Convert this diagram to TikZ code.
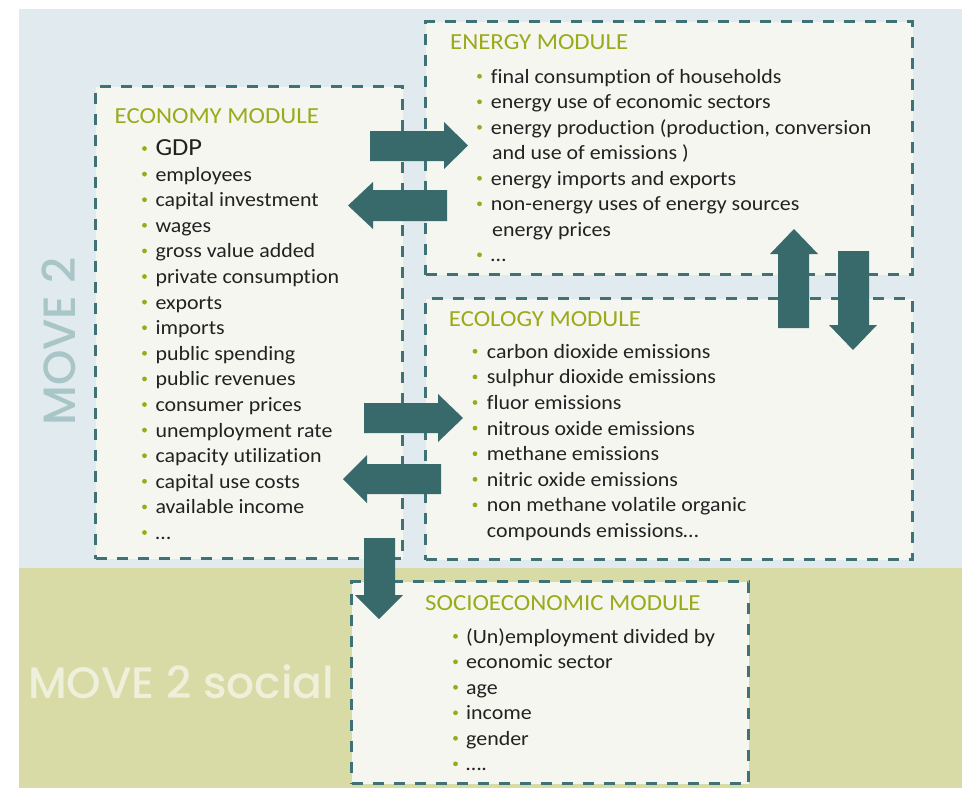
\documentclass[tikz,border=0pt]{standalone}
\usepackage{fontspec}
\setmainfont{Carlito}[FakeStretch=1.08, RawFeature={-liga}]
\newfontfamily\movefont{Poppins Medium}
\definecolor{bgblue}{HTML}{E1EAEE}
\definecolor{bgolive}{HTML}{D8DBA6}
\definecolor{boxfill}{HTML}{F5F6EF}
\definecolor{teal}{HTML}{386A6B}
\definecolor{dashc}{HTML}{3E7274}
\definecolor{titlec}{HTML}{9BAA1B}
\definecolor{textc}{HTML}{222222}
\definecolor{movec}{HTML}{A8C5C7}
\definecolor{socialc}{HTML}{EEF0DA}
\tikzset{
  modbox/.style={draw=dashc, fill=boxfill, line width=3pt, dash pattern=on 11pt off 10pt, anchor=north west, inner sep=0pt},
  modtitle/.style={anchor=base west, inner sep=0pt, text=titlec, font=\fontsize{23}{26}\selectfont},
  item/.style={anchor=base west, inner sep=0pt, text=textc, font=\fontsize{20.3}{24}\selectfont},
  bul/.style={fill=titlec},
  arrowfill/.style={fill=teal},
  bigword/.style={inner sep=0pt, font=\movefont\fontsize{45}{50}\selectfont},
}
\begin{document}
\begin{tikzpicture}[x=1pt,y=-1pt]
\useasboundingbox (0,0) rectangle (962,788);
% backgrounds
\fill[bgblue] (19,9) rectangle (962,568);
\fill[bgolive] (19,568) rectangle (962,788);
\node[bigword, text=movec, rotate=90, anchor=base west] (move) at (75,426) {\resizebox{168pt}{!}{MOVE 2}};
\node[bigword, text=socialc, anchor=base west] (social) at (28,698) {\resizebox{306pt}{!}{MOVE 2 social}};
% boxes
\node[modbox, minimum width=307pt, minimum height=472pt] (eco) at (94,85) {};
\node[modbox, minimum width=487pt, minimum height=253pt] (ener) at (424,20) {};
\node[modbox, minimum width=487pt, minimum height=261pt] (ecol) at (424,297) {};
\node[modbox, minimum width=397pt, minimum height=202pt] (soc) at (350,580) {};
% economy
\node[modtitle] (ecot) at (114.5,123) {ECONOMY MODULE};
\node[item, font=\fontsize{24.5}{28}\selectfont] (eco0) at (155.3,155.5) {GDP};
\fill[bul] (144.5,148.5) circle (2.4);
\foreach \t [count=\i] in {employees, capital investment, wages, gross value added, private consumption, exports, imports, public spending, public revenues, consumer prices, unemployment rate, capacity utilization, capital use costs, available income, \dots}{
  \node[item] (eco\i) at (155.3,155.5+25.6*\i) {\t};
  \fill[bul] (144.5,148.5+25.6*\i) circle (2.4);
}
% energy
\node[modtitle] (enert) at (450,49.3) {ENERGY MODULE};
\node[item] (ener1) at (490.7,83.3) {final consumption of households};
\node[item] (ener2) at (490.7,108.8) {energy use of economic sectors};
\node[item] (ener3) at (490.7,134.3) {energy production (production, conversion};
\node[item] (ener3b) at (492,159.8) {and use of emissions )};
\node[item] (ener4) at (490.7,185.3) {energy imports and exports};
\node[item] (ener5) at (490.7,210.8) {non-energy uses of energy sources};
\node[item] (ener5b) at (492,236.3) {energy prices};
\node[item] (ener6) at (490.7,261.8) {\dots};
\foreach \y in {83.3,108.8,134.3,185.3,210.8,261.8}{
  \fill[bul] (479.5,\y-7) circle (2.4);
}
% ecology
\node[modtitle] (ecolt) at (448.7,326) {ECOLOGY MODULE};
\foreach \t [count=\i from 0] in {carbon dioxide emissions, sulphur dioxide emissions, fluor emissions, nitrous oxide emissions, methane emissions, nitric oxide emissions, non methane volatile organic}{
  \node[item] (ecol\i) at (486.7,358.3+25.6*\i) {\t};
  \fill[bul] (475,351.3+25.6*\i) circle (2.4);
}
\node[item] (ecol7) at (486.7,537.7) {compounds emissions\dots};
% socioeconomic
\node[modtitle] (soct) at (425,610) {SOCIOECONOMIC MODULE};
\foreach \t [count=\i from 0] in {(Un)employment divided by, economic sector, age, income, gender, \dots.}{
  \node[item] (soc\i) at (466,643.3+25.5*\i) {\t};
  \fill[bul] (455.5,636.3+25.5*\i) circle (2.4);
}
% block arrows
\fill[arrowfill] (370,131) -- (444,131) -- (444,122) -- (468,145.5) -- (444,169) -- (444,161) -- (370,161) -- cycle;
\fill[arrowfill] (447,190) -- (373,190) -- (373,182) -- (348,205.5) -- (373,229) -- (373,221) -- (447,221) -- cycle;
\fill[arrowfill] (778,328) -- (778,254) -- (770,254) -- (794,229) -- (818,254) -- (809,254) -- (809,328) -- cycle;
\fill[arrowfill] (838,251) -- (838,325) -- (829,325) -- (853,350) -- (877,325) -- (869,325) -- (869,251) -- cycle;
\fill[arrowfill] (364,403) -- (438,403) -- (438,394) -- (463,418) -- (438,442) -- (438,433) -- (364,433) -- cycle;
\fill[arrowfill] (441,464) -- (367,464) -- (367,455) -- (343,479) -- (367,503) -- (367,494) -- (441,494) -- cycle;
\fill[arrowfill] (364,538) -- (364,595) -- (355,595) -- (379,619) -- (403,595) -- (395,595) -- (395,538) -- cycle;
\end{tikzpicture}
\end{document}
